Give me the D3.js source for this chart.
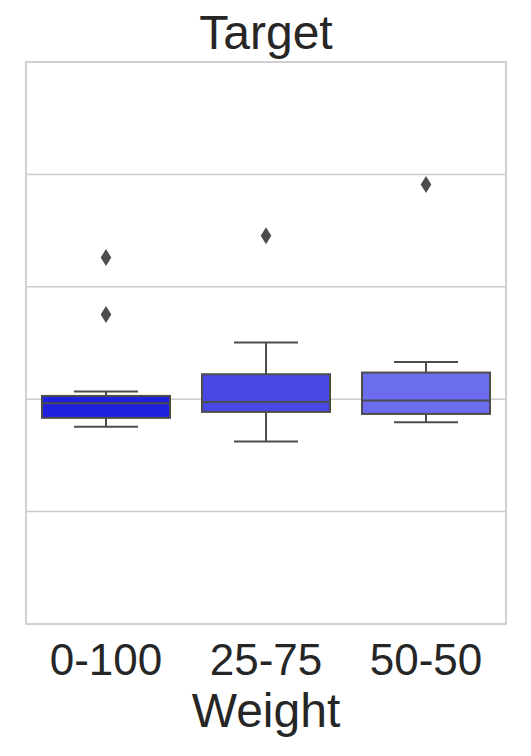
<!DOCTYPE html>
<html>
<head>
<meta charset="utf-8">
<script src="https://cdn.jsdelivr.net/npm/d3@7"></script>
<style>
  body { margin: 0; background: #fff; }
  text { font-family: "Liberation Sans", Arial, sans-serif; fill: #262626; }
</style>
</head>
<body>
<div id="main"></div>
<script>
// data (y units arbitrary, hidden tick labels)
var categories = ["0-100", "25-75", "50-50"];
var whiskerLow = [-2.46, -3.76, -2.05];
var q1 = [-1.66, -1.13, -1.31];
var median = [-0.36, -0.24, -0.12];
var q3 = [0.29, 2.22, 2.37];
var whiskerHigh = [0.68, 5.04, 3.32];
var outliers = [[12.6, 7.54], [14.55], [19.1]];
var yTicks = [-10, 0, 10, 20];
var boxColors = ["#2020df", "#4848e4", "#6c6cef"];

const width = 531, height = 756;
const plotLeft = 26, plotRight = 506, plotTop = 62, plotBottom = 624;
const lineColor = "#4c4c4c";

const holder = d3.select("#main")
  .append("svg")
  .attr("width", width)
  .attr("height", height);

const x = d3.scaleBand().domain(categories).range([plotLeft, plotRight]).padding(0);
const y = d3.scaleLinear().domain([-20, 30]).range([plotBottom, plotTop]);

// grid
holder.append("g").selectAll("line")
  .data(yTicks)
  .join("line")
  .attr("x1", plotLeft).attr("x2", plotRight)
  .attr("y1", d => y(d)).attr("y2", d => y(d))
  .attr("stroke", "#cccccc")
  .attr("stroke-width", 1.5);

// frame
holder.append("rect")
  .attr("x", plotLeft).attr("y", plotTop)
  .attr("width", plotRight - plotLeft).attr("height", plotBottom - plotTop)
  .attr("fill", "none")
  .attr("stroke", "#cccccc")
  .attr("stroke-width", 1.8);

const boxW = x.bandwidth() * 0.8;
const capW = boxW / 2;

categories.forEach(function(c, i) {
  let cx = x(c) + x.bandwidth() / 2;
  let g = holder.append("g");

  // whiskers
  g.append("line")
    .attr("x1", cx).attr("x2", cx)
    .attr("y1", y(whiskerLow[i])).attr("y2", y(q1[i]))
    .attr("stroke", lineColor).attr("stroke-width", 2);
  g.append("line")
    .attr("x1", cx).attr("x2", cx)
    .attr("y1", y(q3[i])).attr("y2", y(whiskerHigh[i]))
    .attr("stroke", lineColor).attr("stroke-width", 2);
  [whiskerLow[i], whiskerHigh[i]].forEach(function(v) {
    g.append("line")
      .attr("x1", cx - capW / 2).attr("x2", cx + capW / 2)
      .attr("y1", y(v)).attr("y2", y(v))
      .attr("stroke", lineColor).attr("stroke-width", 2);
  });

  // box
  g.append("rect")
    .attr("x", cx - boxW / 2).attr("width", boxW)
    .attr("y", y(q3[i])).attr("height", y(q1[i]) - y(q3[i]))
    .attr("fill", boxColors[i])
    .attr("stroke", lineColor).attr("stroke-width", 2);

  // median
  g.append("line")
    .attr("x1", cx - boxW / 2).attr("x2", cx + boxW / 2)
    .attr("y1", y(median[i])).attr("y2", y(median[i]))
    .attr("stroke", lineColor).attr("stroke-width", 2);

  // fliers (thin diamonds)
  g.selectAll("path.flier")
    .data(outliers[i])
    .join("path")
    .attr("class", "flier")
    .attr("d", "M0,-8.5L5.3,0L0,8.5L-5.3,0Z")
    .attr("transform", d => "translate(" + cx + "," + y(d) + ")")
    .attr("fill", lineColor);
});

// tick labels
holder.append("g").selectAll("text")
  .data(categories)
  .join("text")
  .attr("x", d => x(d) + x.bandwidth() / 2)
  .attr("y", 675)
  .attr("text-anchor", "middle")
  .style("font-size", "44px")
  .text(d => d);

// axis label
holder.append("text")
  .attr("x", (plotLeft + plotRight) / 2)
  .attr("y", 727)
  .attr("text-anchor", "middle")
  .style("font-size", "48px")
  .text("Weight");

// title
holder.append("text")
  .attr("x", (plotLeft + plotRight) / 2)
  .attr("y", 49)
  .attr("text-anchor", "middle")
  .style("font-size", "48px")
  .text("Target");
</script>
</body>
</html>
